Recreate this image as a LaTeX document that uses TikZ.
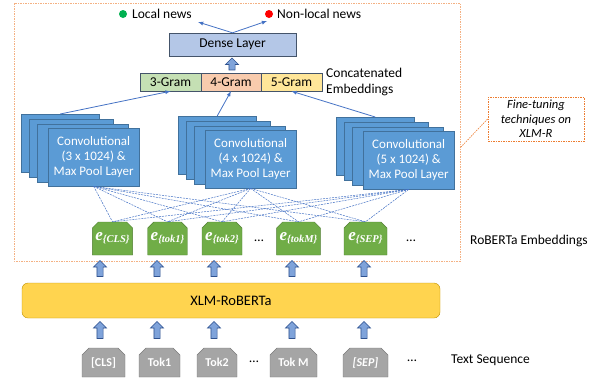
\documentclass[tikz,border=0pt]{standalone}
\usepackage{fontspec}
\setmainfont{Carlito}
\newfontfamily\embfont{Liberation Serif}
\usetikzlibrary{shapes.misc, shapes.arrows, calc}
\tikzset{>=latex}

\definecolor{frameorange}{HTML}{F4B183}
\definecolor{noteorange}{HTML}{ED7D31}
\definecolor{linkblue}{HTML}{4472C4}
\definecolor{densefill}{HTML}{B4C7E7}
\definecolor{convfill}{HTML}{5B9BD5}
\definecolor{convline}{HTML}{41719C}
\definecolor{gramline}{HTML}{44546A}
\definecolor{gramgreen}{HTML}{C5E0B4}
\definecolor{gramorange}{HTML}{F8CBAD}
\definecolor{gramyellow}{HTML}{FFE699}
\definecolor{embfill}{HTML}{70AD47}
\definecolor{embline}{HTML}{507E32}
\definecolor{xlmfill}{HTML}{FFD44F}
\definecolor{xlmline}{HTML}{BF9000}
\definecolor{tokfill}{HTML}{A5A5A5}
\definecolor{tokline}{HTML}{787878}
\definecolor{arrowfill}{HTML}{7FA3DA}
\definecolor{arrowline}{HTML}{2F528F}
\definecolor{localgreen}{HTML}{00B050}

% e with a braced subscript, as in the embedding boxes
\newcommand{\embvec}[1]{{\embfont\bfseries\itshape e\raisebox{-0.3ex}{\fontsize{10.5}{11}\selectfont\{#1\}}}}

\tikzset{
    txt/.style={font=\fontsize{13.5}{15.5}\selectfont, inner sep=0},
    frame/.style={frameorange, line width=1pt, dash pattern=on 1.5pt off 1pt},
    note/.style={draw=noteorange, line width=0.8pt, dash pattern=on 1.5pt off 1pt,
        minimum width=96, minimum height=44, inner sep=0, align=center,
        font=\itshape\fontsize{12.5}{14.5}\selectfont},
    notelink/.style={noteorange, line width=0.6pt, dash pattern=on 1.5pt off 1pt},
    link/.style={linkblue, line width=0.8pt},
    dashlink/.style={linkblue, line width=0.5pt, dash pattern=on 2pt off 1pt},
    dense/.style={draw=gramline, fill=densefill, minimum width=127, minimum height=23,
        inner sep=0, font=\fontsize{13.5}{15.5}\selectfont},
    gram/.style={draw=gramline, minimum width=60.5, minimum height=18, inner sep=0,
        font=\fontsize{13.5}{15.5}\selectfont},
    convlayer/.style={draw=convline, fill=convfill, minimum height=58, inner sep=0,
        anchor=north west},
    conv/.style={convlayer, minimum width=91, text=white, align=center,
        font=\fontsize{13}{15}\selectfont},
    emb/.style={chamfered rectangle, chamfered rectangle corners={north west, north east},
        chamfered rectangle xsep=3pt, chamfered rectangle ysep=3pt,
        draw=embline, fill=embfill, text=white, minimum height=33, inner sep=0,
        font=\fontsize{17}{18}\selectfont},
    tok/.style={chamfered rectangle, chamfered rectangle corners={north west, north east},
        chamfered rectangle xsep=3.5pt, chamfered rectangle ysep=3.5pt,
        draw=tokline, fill=tokfill, text=white, minimum height=29, inner sep=0,
        font=\bfseries\fontsize{12}{14}\selectfont},
    xlm/.style={draw=xlmline, fill=xlmfill, rounded corners=6, minimum width=418,
        minimum height=35, font=\fontsize{14.5}{16}\selectfont},
    blockarrow/.style={single arrow, shape border rotate=90, draw=arrowline, fill=arrowfill,
        line width=0.6pt, inner sep=2.75pt, single arrow head extend=3.5pt, minimum width=0}
}

\begin{document}
\begin{tikzpicture}[x=1pt, y=-1pt]
    \useasboundingbox (0, 0) rectangle (594, 381);

    % fine-tuning part
    \draw[frame](14, 3) rectangle (460, 261);
    \coordinate (framept) at (460, 148);
    \node[note] (note) at (536, 119) {Fine-tuning\\techniques on\\XLM-R};
    \draw[notelink] (note.west) -- (framept);

    % outputs
    \node[txt, anchor=west] (local) at (132, 14) {Local news};
    \node[txt, anchor=west] (nonlocal) at (277, 14) {Non-local news};
    \fill[localgreen] ($(local.west)+(-9, 0)$) circle(4);
    \fill[red] ($(nonlocal.west)+(-8, 0)$) circle(4);
    \coordinate (outl) at (198, 22);
    \coordinate (outr) at (267, 21);

    \node[dense] (dense) at (232.5, 44.5) {Dense Layer};
    \draw[link, ->] (dense.north) -- (outl);
    \draw[link, ->] (dense.north) -- (outr);

    % n-grams
    \node[gram, fill=gramgreen] (g3) at (170.5, 82) {3-Gram};
    \node[gram, fill=gramorange] (g4) at (231, 82) {4-Gram};
    \node[gram, fill=gramyellow] (g5) at (291.5, 82) {5-Gram};
    \node[txt, anchor=west, align=left] (concat) at (326, 82) {Concatenated\\Embeddings};
    \node[blockarrow, minimum height=12] (updense) at (232, 65.5) {};

    % convolution stacks
    \foreach \dx/\dy/\w [count=\i] in {27/14/78, 19/9.5/84, 11/4.5/91}{
        \node[convlayer, minimum width=\w] (conv3-\i) at (48-\dx, 128-\dy) {};
        \node[convlayer, minimum width=\w] (conv4-\i) at (205-\dx, 130-\dy) {};
        \node[convlayer, minimum width=\w] (conv5-\i) at (363-\dx, 131-\dy) {};
    }
    \node[conv] (conv3) at (48, 128) {Convolutional\\(3 x 1024) \&\\Max Pool Layer};
    \node[conv] (conv4) at (205, 130) {Convolutional\\(4 x 1024) \&\\Max Pool Layer};
    \node[conv] (conv5) at (363, 131) {Convolutional\\(5 x 1024) \&\\Max Pool Layer};
    \draw[link, ->] (conv3-1.north) -- (g3.south);
    \draw[link, ->] (conv4-1.north) -- (g4.south);
    \draw[link, ->] (conv5-1.north) -- (g5.south);

    % embeddings
    \node[emb, minimum width=39] (ecls) at (112.5, 238.5) {\embvec{CLS}};
    \node[emb, minimum width=39] (etok1) at (167.5, 238.5) {\embvec{tok1}};
    \node[emb, minimum width=40] (etok2) at (222, 238.5) {\embvec{tok2}};
    \node[emb, minimum width=43] (etokm) at (298.5, 238.5) {\embvec{tokM}};
    \node[emb, minimum width=43] (esep) at (365.5, 238.5) {\embvec{SEP}};
    \node[txt] (edots) at (259, 241) {…};
    \node[txt] (edots2) at (411, 241) {…};
    \node[txt, anchor=west] (emblabel) at (470, 241) {RoBERTa Embeddings};
    \foreach \c in {conv3, conv4, conv5}
        \foreach \e in {ecls, etok1, etok2, etokm, esep}
            \draw[dashlink] (\c.south) -- (\e.north);

    % XLM-R and tokens
    \node[xlm] (xlm) at (231, 300.5) {XLM-RoBERTa};
    \node[tok, minimum width=43] (cls) at (103.5, 362.5) {[CLS]};
    \node[tok, minimum width=41] (tok1) at (159.5, 362.5) {Tok1};
    \node[tok, minimum width=40] (tok2) at (217, 362.5) {Tok2};
    \node[tok, minimum width=47] (tokm) at (293.5, 362.5) {Tok M};
    \node[tok, minimum width=45] (sep) at (365.5, 362.5) {\itshape [SEP]};
    \node[txt] (tdots) at (254, 362) {…};
    \node[txt] (tdots2) at (412, 361) {…};
    \node[txt, anchor=west] (seqlabel) at (451, 360) {Text Sequence};
    \foreach \x in {100, 157, 214, 292, 364}{
        \node[blockarrow, minimum height=16] (hi-\x) at (\x, 270) {};
        \node[blockarrow, minimum height=17] (lo-\x) at (\x, 331.5) {};
    }
\end{tikzpicture}
\end{document}
